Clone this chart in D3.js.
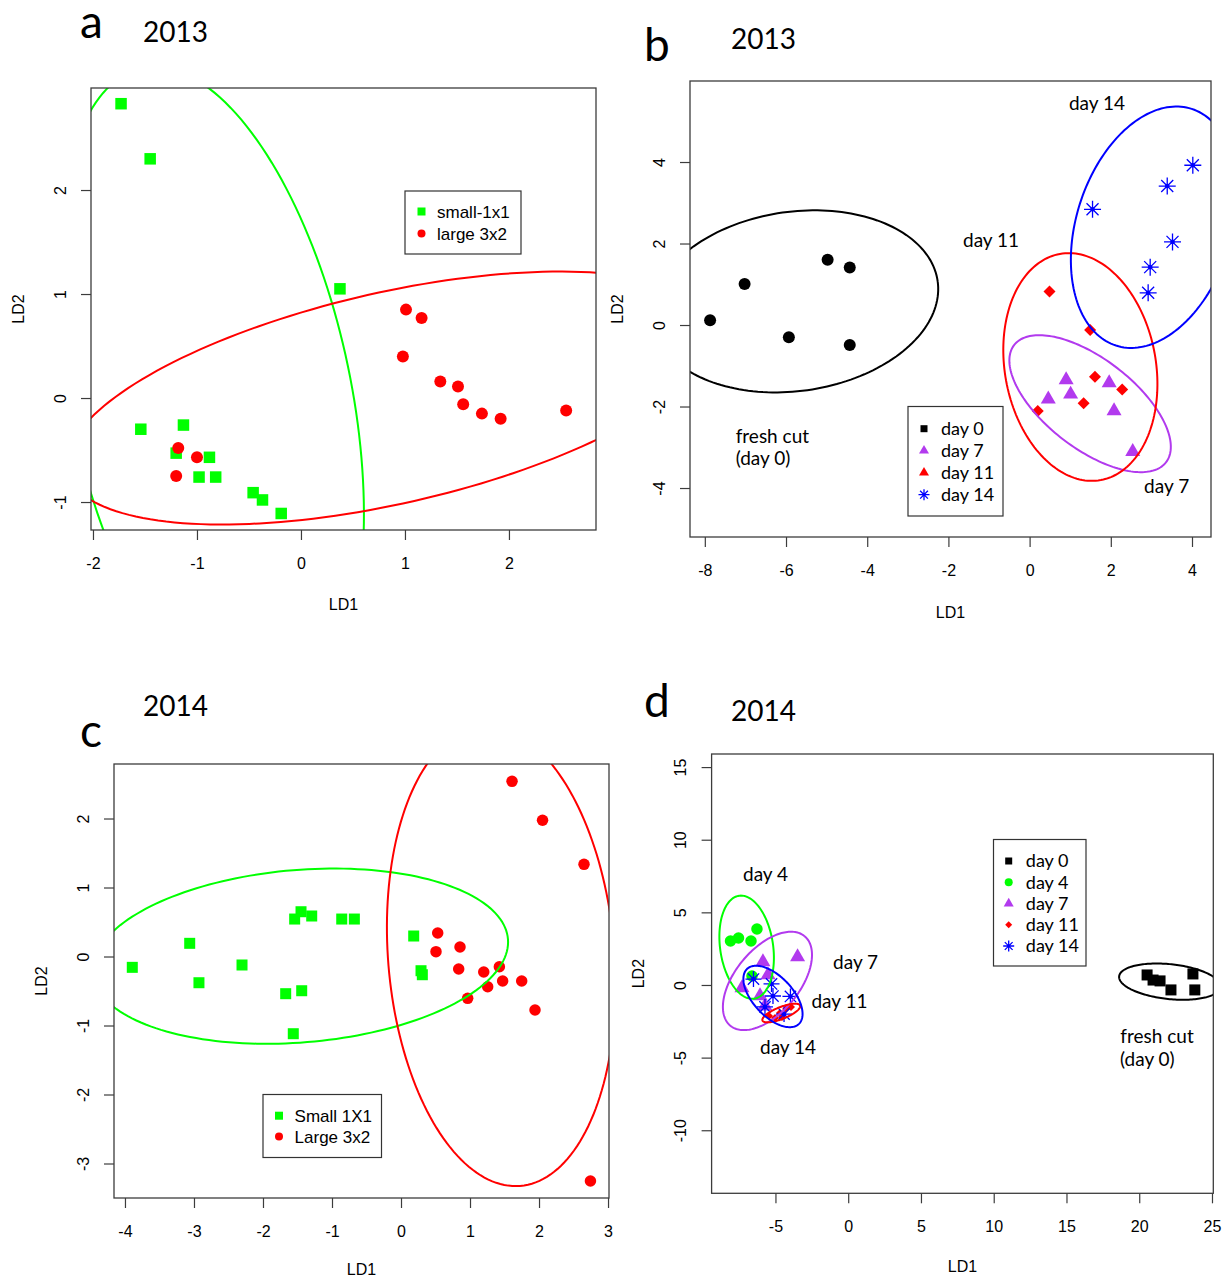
<!DOCTYPE html>
<html>
<head>
<meta charset="utf-8">
<script src="https://cdn.jsdelivr.net/npm/d3@7"></script>
<style>
  body { margin: 0; background: #fff; }
  svg text { font-family: "Liberation Sans", Arial, sans-serif; fill: #000; }
  svg text.cal { font-family: Lato, "Open Sans", sans-serif; }
</style>
</head>
<body>
<div id="chart"></div>
<script>

const GREEN = "#00ff00", RED = "#ff0000", PURPLE = "#b23aee", BLUE = "#0000ff", BLACK = "#000000";

// ---------- panel a (2013, sizes) ----------
const aSmall = [[-1.73, 2.83], [-1.45, 2.30], [0.375, 1.05], [-1.54, -0.30], [-1.13, -0.26], [-1.20, -0.53],
    [-0.88, -0.57], [-0.98, -0.76], [-0.82, -0.76], [-0.46, -0.91], [-0.37, -0.98], [-0.19, -1.11]];
const aLarge = [[1.01, 0.85], [1.16, 0.77], [0.98, 0.40], [1.34, 0.16], [1.51, 0.11], [1.56, -0.06],
    [1.74, -0.15], [1.92, -0.20], [2.55, -0.12], [-1.18, -0.48], [-1.00, -0.57], [-1.20, -0.75]];
// ellipse = [centre x, centre y, semi-major, semi-minor, angle (deg)]
const aSmallEllipse = [-0.87, 0.03, 3.21, 1.35, -78.2];
const aLargeEllipse = [0.865, 0.0, 3.19, 1.015, 12.8];
const aXTicks = [-2, -1, 0, 1, 2];
const aYTicks = [-1, 0, 1, 2];
const aLegend = ["small-1x1", "large 3x2"];

// ---------- panel b (2013, storage days) ----------
const bDay0 = [[-7.87, 0.115], [-7.02, 1.006], [-5.93, -0.30], [-4.975, 1.60], [-4.43, 1.41], [-4.43, -0.49]];
const bDay7 = [[0.90, -1.35], [1.96, -1.42], [0.46, -1.82], [1.01, -1.70], [2.08, -2.11], [2.54, -3.11]];
const bDay11 = [[0.49, 0.82], [1.49, -0.12], [1.61, -1.27], [2.28, -1.58], [1.33, -1.92], [0.20, -2.11]];
const bDay14 = [[1.55, 2.84], [3.39, 3.41], [4.02, 3.92], [3.52, 2.04], [2.97, 1.42], [2.92, 0.79]];
const bDay0Ellipse = [-5.78, 0.58, 3.55, 2.2, 8];
const bDay7Ellipse = [1.49, -1.93, 2.36, 1.10, -37.5];
const bDay11Ellipse = [1.25, -1.03, 2.82, 1.86, -79.7];
const bDay14Ellipse = [3.06, 2.40, 3.05, 1.91, 72.2];
const bXTicks = [-8, -6, -4, -2, 0, 2, 4];
const bYTicks = [-4, -2, 0, 2, 4];
const bLegend = ["day 0", "day 7", "day 11", "day 14"];
const bNotes = [["day 14", 0.97, 5.28], ["day 11", -1.64, 1.91], ["fresh cut", -7.24, -2.90],
    ["(day 0)", -7.24, -3.44], ["day 7", 2.82, -4.12]];

// ---------- panel c (2014, sizes) ----------
const cSmall = [[-3.894, -0.157], [-3.062, 0.191], [-2.928, -0.380], [-2.304, -0.123], [-1.671, -0.539],
    [-1.439, -0.496], [-1.561, -1.119], [-1.541, 0.543], [-1.449, 0.649], [-1.294, 0.587], [-0.859, 0.543],
    [-0.676, 0.543], [0.184, 0.297], [0.290, -0.206], [0.309, -0.264]];
const cLarge = [[0.532, 0.341], [0.507, 0.070], [0.855, 0.138], [0.836, -0.181], [1.199, -0.225],
    [1.425, -0.148], [1.256, -0.438], [1.473, -0.355], [1.749, -0.355], [0.966, -0.606], [1.942, -0.775],
    [1.609, 2.539], [2.051, 1.974], [2.652, 1.336], [2.745, -3.254]];
const cSmallEllipse = [-1.46, 0.005, 3.02, 1.25, 4.7];
const cLargeEllipse = [1.453, 0.004, 3.34, 1.64, -85.3];
const cXTicks = [-4, -3, -2, -1, 0, 1, 2, 3];
const cYTicks = [-3, -2, -1, 0, 1, 2];
const cLegend = ["Small 1X1", "Large 3x2"];

// ---------- panel d (2014, storage days) ----------
const dDay0 = [[20.54, 0.69], [20.95, 0.34], [21.43, 0.28], [22.18, -0.34], [23.69, 0.76], [23.82, -0.34]];
const dDay4 = [[-8.09, 3.03], [-7.54, 3.23], [-6.68, 3.03], [-6.27, 3.85], [-6.61, 0.62]];
const dDay7 = [[-3.48, 1.93], [-5.86, 1.58], [-5.51, 0.69], [-7.30, -0.21], [-5.72, -1.45], [-6.06, -0.76]];
const dDay11 = [[-5.44, -2.13], [-5.03, -2.27], [-4.69, -1.93], [-4.27, -1.65], [-3.93, -1.51], [-4.55, -2.20]];
const dDay14 = [[-6.51, 0.41], [-5.27, 0.07], [-5.17, -0.76], [-3.97, -0.79], [-5.72, -1.51], [-4.41, -2.00]];
const dDay0Ellipse = [22.1, 0.23, 3.5, 1.2, -6];
const dDay4Ellipse = [-6.98, 2.6, 3.58, 1.82, 98.3];
const dDay7Ellipse = [-5.55, 0.28, 4.0, 2.2, 50.4];
const dDay11Ellipse = [-4.6, -1.93, 1.39, 0.41, 21.8];
const dDay14Ellipse = [-5.17, -0.79, 2.6, 1.36, -47];
const dXTicks = [-5, 0, 5, 10, 15, 20, 25];
const dYTicks = [-10, -5, 0, 5, 10, 15];
const dLegend = ["day 0", "day 4", "day 7", "day 11", "day 14"];
const dNotes = [["day 4", -7.23, 7.19], ["day 7", -1.04, 1.07], ["day 11", -2.53, -1.58],
    ["day 14", -6.06, -4.78], ["fresh cut", 18.70, -3.99], ["(day 0)", 18.68, -5.61]];


const svg = d3.select("#chart").append("svg")
    .attr("width", 1225)
    .attr("height", 1278);

let panels = [
    {
        id: "a", letter: "a", year: "2013", letterPos: [80, 38], yearPos: [143, 42], ld1Gap: 74,
        box: [91, 88, 596, 530], xDomain: [-2.019, 2.837], yDomain: [-1.269, 2.981],
        xTicks: aXTicks, yTicks: aYTicks,
        groups: [
            { points: aSmall, shape: "square", size: 11.5, color: GREEN, ellipse: aSmallEllipse },
            { points: aLarge, shape: "circle", size: 12, color: RED, ellipse: aLargeEllipse }
        ],
        legend: { box: [405, 191, 521, 254], rows: [211.5, 233.5], symX: 421.5, textX: 437, cls: "", fontSize: 17,
            labels: aLegend, symbols: [["square", 8, GREEN], ["circle", 8, RED]] },
        notes: []
    },
    {
        id: "b", letter: "b", year: "2013", letterPos: [644, 61], yearPos: [731, 49], ld1Gap: 75,
        box: [690, 81, 1211, 537], xDomain: [-8.365, 4.468], yDomain: [-5.202, 5.988],
        xTicks: bXTicks, yTicks: bYTicks,
        groups: [
            { points: bDay0, shape: "circle", size: 12, color: BLACK, ellipse: bDay0Ellipse },
            { points: bDay7, shape: "triangle", size: 15, color: PURPLE, ellipse: bDay7Ellipse },
            { points: bDay11, shape: "diamond", size: 12, color: RED, ellipse: bDay11Ellipse },
            { points: bDay14, shape: "asterisk", size: 17, color: BLUE, ellipse: bDay14Ellipse }
        ],
        legend: { box: [908, 406.5, 1003, 516], rows: [428.7, 450.7, 472.7, 494.7], symX: 924, textX: 941, cls: "cal", fontSize: 18,
            labels: bLegend, symbols: [["square", 7, BLACK], ["triangle", 10, PURPLE], ["triangle", 10, RED], ["asterisk", 11, BLUE]] },
        notes: bNotes
    },
    {
        id: "c", letter: "c", year: "2014", letterPos: [80, 747], yearPos: [143, 716], ld1Gap: 71,
        box: [114, 764, 609, 1198], xDomain: [-4.159, 3.014], yDomain: [-3.5, 2.79],
        xTicks: cXTicks, yTicks: cYTicks,
        groups: [
            { points: cSmall, shape: "square", size: 11, color: GREEN, ellipse: cSmallEllipse },
            { points: cLarge, shape: "circle", size: 11.5, color: RED, ellipse: cLargeEllipse }
        ],
        legend: { box: [263, 1094.5, 381.5, 1157.5], rows: [1115.7, 1136.5], symX: 279, textX: 294.6, cls: "", fontSize: 17,
            labels: cLegend, symbols: [["square", 8, GREEN], ["circle", 8, RED]] },
        notes: []
    },
    {
        id: "d", letter: "d", year: "2014", letterPos: [644, 717], yearPos: [731, 721], ld1Gap: 73,
        box: [711.6, 754, 1213.3, 1193.3], xDomain: [-9.388, 25.09], yDomain: [-14.34, 15.9],
        xTicks: dXTicks, yTicks: dYTicks,
        groups: [
            { points: dDay0, shape: "square", size: 11, color: BLACK, ellipse: dDay0Ellipse },
            { points: dDay4, shape: "circle", size: 11.5, color: GREEN, ellipse: dDay4Ellipse },
            { points: dDay7, shape: "triangle", size: 15, color: PURPLE, ellipse: dDay7Ellipse },
            { points: dDay11, shape: "diamond", size: 8, color: RED, ellipse: dDay11Ellipse },
            { points: dDay14, shape: "asterisk", size: 16, color: BLUE, ellipse: dDay14Ellipse }
        ],
        legend: { box: [993.5, 839.5, 1086, 966], rows: [861, 882.3, 903.5, 924.7, 946], symX: 1008.7, textX: 1025.8, cls: "cal", fontSize: 18,
            labels: dLegend, symbols: [["square", 7, BLACK], ["circle", 8, GREEN], ["triangle", 10, PURPLE], ["diamond", 7, RED], ["asterisk", 11, BLUE]] },
        notes: dNotes
    }
];

panels.forEach(drawPanel);


function drawPanel(p) {

    let [x0, y0, x1, y1] = p.box;
    let xs = d3.scaleLinear().domain(p.xDomain).range([x0, x1]);
    let ys = d3.scaleLinear().domain(p.yDomain).range([y1, y0]);

    let g = svg.append("g");
    let clipId = `clip-${p.id}`;

    svg.append("clipPath")
        .attr("id", clipId)
        .append("rect")
        .attr("x", x0).attr("y", y0)
        .attr("width", x1 - x0).attr("height", y1 - y0);

    let plot = g.append("g").attr("clip-path", `url(#${clipId})`);

    p.groups.forEach(gr => {
        gr.points.forEach(d => drawMarker(plot, gr.shape, xs(d[0]), ys(d[1]), gr.size, gr.color));
    });

    p.groups.forEach(gr => {
        plot.append("path")
            .attr("d", ellipsePath(xs, ys, gr.ellipse))
            .attr("fill", "none")
            .attr("stroke", gr.color)
            .attr("stroke-width", 2);
    });

    // text notes inside the plot
    p.notes.forEach(([label, nx, ny]) => {
        g.append("text")
            .attr("class", "cal")
            .attr("x", xs(nx))
            .attr("y", ys(ny))
            .attr("font-size", "19px")
            .text(label);
    });

    // legend
    let lg = p.legend;
    g.append("rect")
        .attr("x", lg.box[0]).attr("y", lg.box[1])
        .attr("width", lg.box[2] - lg.box[0]).attr("height", lg.box[3] - lg.box[1])
        .attr("fill", "#fff")
        .attr("stroke", "#333")
        .attr("stroke-width", 1.2);

    lg.labels.forEach((label, i) => {
        let [shape, size, color] = lg.symbols[i];
        drawMarker(g, shape, lg.symX, lg.rows[i], size, color);
        g.append("text")
            .attr("class", lg.cls)
            .attr("x", lg.textX)
            .attr("y", lg.rows[i])
            .attr("dy", "0.36em")
            .attr("font-size", `${lg.fontSize}px`)
            .text(label);
    });

    // frame
    g.append("rect")
        .attr("x", x0).attr("y", y0)
        .attr("width", x1 - x0).attr("height", y1 - y0)
        .attr("fill", "none")
        .attr("stroke", "#3c3c3c")
        .attr("stroke-width", 1.3);

    // axes
    let xAxis = g.append("g")
        .attr("transform", `translate(0,${y1})`)
        .call(d3.axisBottom(xs).tickValues(p.xTicks).tickSize(10).tickSizeOuter(0).tickFormat(d => String(d)));
    xAxis.select(".domain").remove();
    xAxis.selectAll(".tick line").attr("stroke", "#3c3c3c").attr("stroke-width", 1.2);
    xAxis.selectAll(".tick text")
        .attr("y", 33)
        .attr("dy", "0.36em")
        .attr("font-size", "16px")
        .attr("font-family", "'Liberation Sans', Arial, sans-serif")
        .attr("fill", "#000");

    let yAxis = g.append("g")
        .attr("transform", `translate(${x0},0)`)
        .call(d3.axisLeft(ys).tickValues(p.yTicks).tickSize(10).tickSizeOuter(0).tickFormat(d => String(d)));
    yAxis.select(".domain").remove();
    yAxis.selectAll(".tick line").attr("stroke", "#3c3c3c").attr("stroke-width", 1.2);
    yAxis.selectAll(".tick text")
        .attr("x", null)
        .attr("dy", "0.36em")
        .attr("text-anchor", "middle")
        .attr("transform", "translate(-31,0) rotate(-90)")
        .attr("font-size", "16px")
        .attr("font-family", "'Liberation Sans', Arial, sans-serif")
        .attr("fill", "#000");

    // axis titles
    g.append("text")
        .attr("x", (x0 + x1) / 2)
        .attr("y", y1 + p.ld1Gap)
        .attr("dy", "0.36em")
        .attr("text-anchor", "middle")
        .attr("font-size", "16px")
        .text("LD1");

    g.append("text")
        .attr("transform", `translate(${x0 - 73},${(y0 + y1) / 2}) rotate(-90)`)
        .attr("dy", "0.36em")
        .attr("text-anchor", "middle")
        .attr("font-size", "16px")
        .text("LD2");

    // panel letter and year
    g.append("text")
        .attr("class", "cal")
        .attr("x", p.letterPos[0]).attr("y", p.letterPos[1])
        .attr("font-size", "46px")
        .text(p.letter);

    g.append("text")
        .attr("class", "cal")
        .attr("x", p.yearPos[0]).attr("y", p.yearPos[1])
        .attr("font-size", "28px")
        .text(p.year);
}


function ellipsePath(xs, ys, e) {
    let [cx, cy, a, b, deg] = e;
    let th = deg * Math.PI / 180;
    let pts = d3.range(0, 361, 2).map(t => {
        let r = t * Math.PI / 180;
        let ex = a * Math.cos(r);
        let ey = b * Math.sin(r);
        return [cx + ex * Math.cos(th) - ey * Math.sin(th), cy + ex * Math.sin(th) + ey * Math.cos(th)];
    });
    return d3.line().x(d => xs(d[0])).y(d => ys(d[1]))(pts);
}


function drawMarker(g, shape, x, y, size, color) {
    if (shape === "square") {
        g.append("rect")
            .attr("x", x - size / 2).attr("y", y - size / 2)
            .attr("width", size).attr("height", size)
            .attr("fill", color);
    } else if (shape === "circle") {
        g.append("circle")
            .attr("cx", x).attr("cy", y).attr("r", size / 2)
            .attr("fill", color);
    } else if (shape === "triangle") {
        // R style: centroid on the point, base = size
        let r = size / 1.732;
        g.append("path")
            .attr("d", `M${x},${y - r}L${x + size / 2},${y + r / 2}L${x - size / 2},${y + r / 2}Z`)
            .attr("fill", color);
    } else if (shape === "diamond") {
        let h = size / 2;
        g.append("path")
            .attr("d", `M${x},${y - h}L${x + h},${y}L${x},${y + h}L${x - h},${y}Z`)
            .attr("fill", color);
    } else if (shape === "asterisk") {
        let h = size / 2;
        let k = h * 0.707;
        g.append("path")
            .attr("d", `M${x - h},${y}L${x + h},${y}M${x},${y - h}L${x},${y + h}` +
                `M${x - k},${y - k}L${x + k},${y + k}M${x - k},${y + k}L${x + k},${y - k}`)
            .attr("stroke", color)
            .attr("stroke-width", 1.3)
            .attr("fill", "none");
        g.append("circle")
            .attr("cx", x).attr("cy", y).attr("r", size > 12 ? 2.3 : 0)
            .attr("fill", color);
    }
}
</script>
</body>
</html>
